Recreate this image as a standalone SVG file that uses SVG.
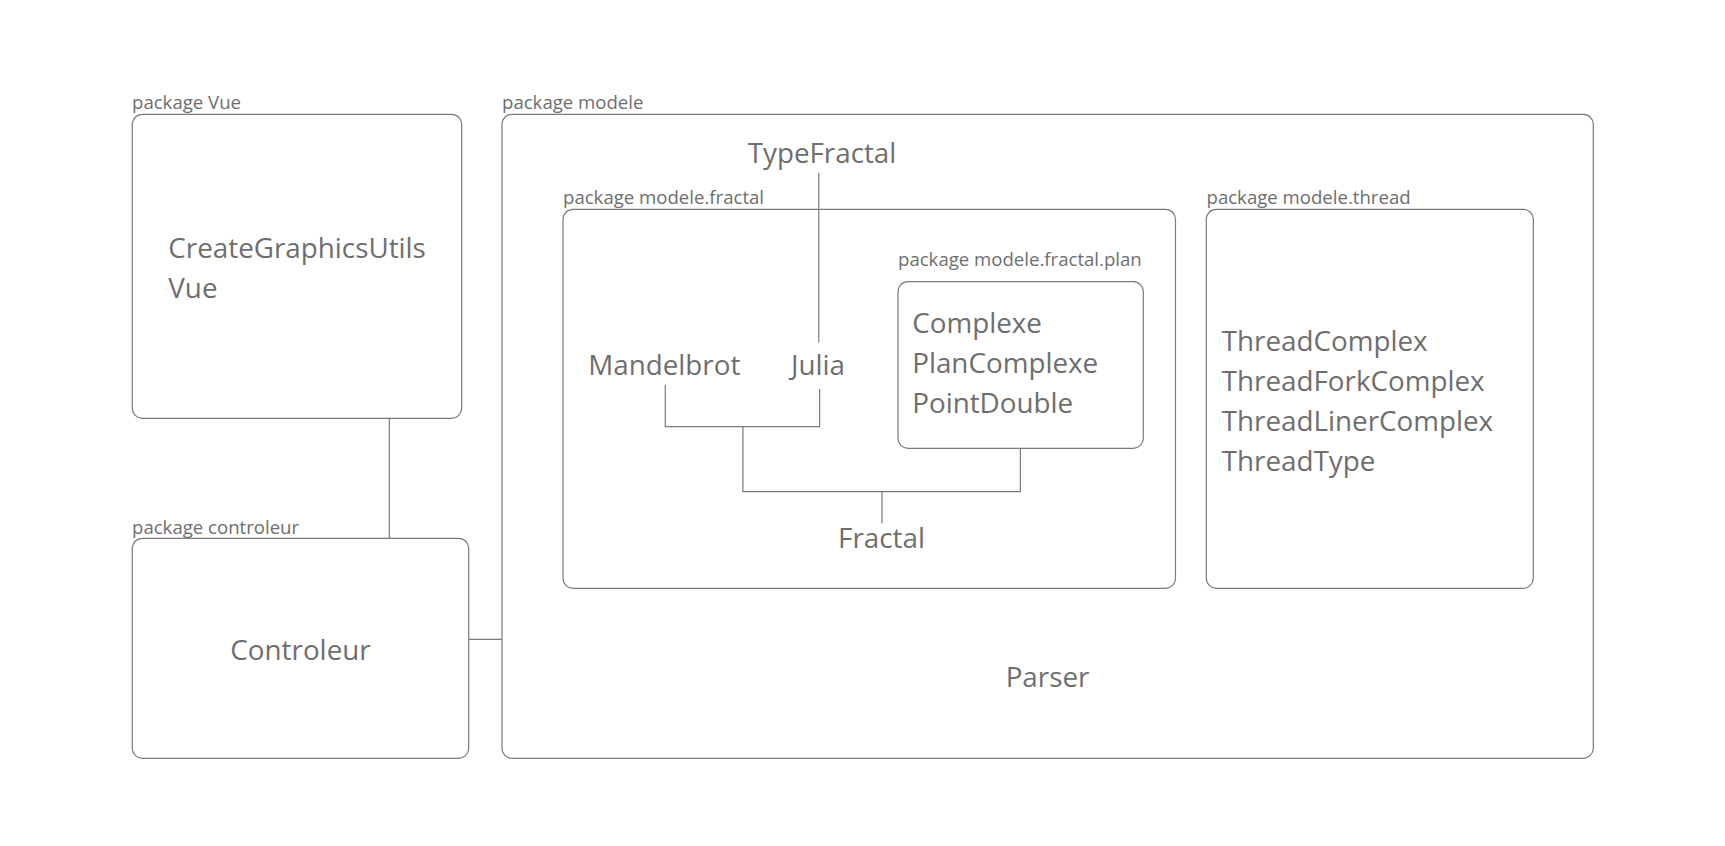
<svg xmlns="http://www.w3.org/2000/svg" width="1725" height="846" viewBox="0 0 1725 846">
<style>
.box{fill:none;stroke:#7a7a7a;stroke-width:1.2}
.ln{fill:none;stroke:#7a7a7a;stroke-width:1.2}
.lbl{font-family:"Open Sans","Noto Sans",sans-serif;font-size:18.6px;fill:#6e6e6e}
.big{font-family:"Open Sans","Noto Sans",sans-serif;font-size:27.8px;fill:#6e6e6e}
</style>
<rect width="1725" height="846" fill="#ffffff"/>
<g id="connectors">
<line class="ln" x1="389.3" y1="418.3" x2="389.3" y2="538.3"/>
<line class="ln" x1="468.7" y1="639.3" x2="502" y2="639.3"/>
<line class="ln" x1="818.8" y1="172.7" x2="818.8" y2="342.3"/>
<polyline class="ln" points="665.3,385 665.3,426.7 819.6,426.7 819.6,389"/>
<polyline class="ln" points="742.9,426.7 742.9,491.7 1020.4,491.7 1020.4,448.3"/>
<line class="ln" x1="882" y1="491.7" x2="882" y2="523.3"/>
</g>
<g id="pkg-vue">
<text class="lbl" x="132" y="109">package Vue</text>
<rect class="box" x="132.3" y="114.3" width="329.4" height="304" rx="10"/>
<text class="big" x="168.3" y="258">CreateGraphicsUtils</text>
<text class="big" x="168.3" y="298.3">Vue</text>
</g>
<g id="pkg-controleur">
<text class="lbl" x="132" y="534">package controleur</text>
<rect class="box" x="132.3" y="538.3" width="336.4" height="220" rx="10"/>
<text class="big" x="300.5" y="660" text-anchor="middle">Controleur</text>
</g>
<g id="pkg-modele">
<text class="lbl" x="502" y="109">package modele</text>
<rect class="box" x="502" y="114.3" width="1091.3" height="644" rx="10"/>
<text class="big" x="1047.5" y="686.7" text-anchor="middle">Parser</text>
</g>
<g id="typefractal">
<text class="big" x="822" y="163.3" text-anchor="middle">TypeFractal</text>
</g>
<g id="pkg-fractal">
<text class="lbl" x="563" y="203.5">package modele.fractal</text>
<rect class="box" x="563" y="209.3" width="612.5" height="379" rx="10"/>
</g>
<g id="mandelbrot"><text class="big" x="588.2" y="375">Mandelbrot</text></g>
<g id="julia"><text class="big" x="791" y="375">Julia</text></g>
<g id="fractal"><text class="big" x="881.5" y="548.3" text-anchor="middle">Fractal</text></g>
<g id="pkg-plan">
<text class="lbl" x="898" y="266">package modele.fractal.plan</text>
<rect class="box" x="898" y="281.7" width="245.3" height="166.6" rx="10"/>
<text class="big" x="912.2" y="333.3">Complexe</text>
<text class="big" x="912.2" y="373.3">PlanComplexe</text>
<text class="big" x="912.2" y="413.3">PointDouble</text>
</g>
<g id="pkg-thread">
<text class="lbl" x="1206.5" y="204">package modele.thread</text>
<rect class="box" x="1206.3" y="209.3" width="327" height="379" rx="10"/>
<text class="big" x="1221.7" y="350.5">ThreadComplex</text>
<text class="big" x="1221.7" y="390.5">ThreadForkComplex</text>
<text class="big" x="1221.7" y="430.5">ThreadLinerComplex</text>
<text class="big" x="1221.7" y="470.5">ThreadType</text>
</g>
</svg>
